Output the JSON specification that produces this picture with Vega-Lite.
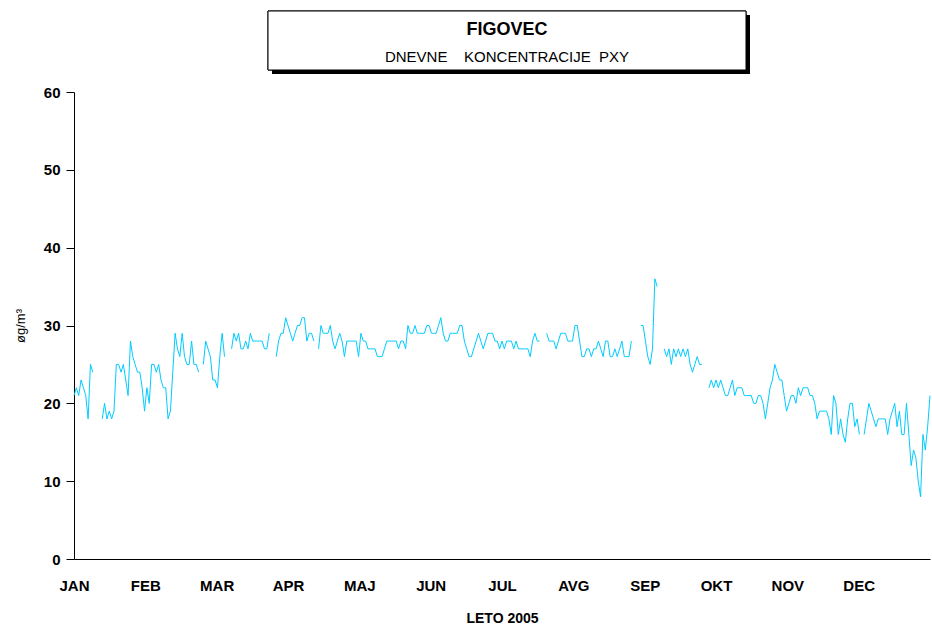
{
  "$schema": "https://vega.github.io/schema/vega-lite/v6.json",
  "background": "white",
  "padding": {"left": 14, "top": 10, "right": 0, "bottom": 0},
  "config": {
    "view": {"stroke": null},
    "font": "Liberation Sans",
    "axis": {"labelFont": "Liberation Sans", "titleFont": "Liberation Sans", "labelColor": "black", "titleColor": "black", "domainColor": "black", "tickColor": "black", "grid": false}
  },
  "spacing": 22,
  "bounds": "flush",
  "center": true,
  "vconcat": [
    {
      "width": 484,
      "height": 59,
      "data": {"values": [{"line": "a", "t": "FIGOVEC"}, {"line": "b", "t": "DNEVNE\u00a0\u00a0\u00a0 KONCENTRACIJE\u00a0 PXY"}]},
      "layer": [
        {
          "mark": {"type": "rect", "color": "black", "xOffset": 12, "x2Offset": 6, "yOffset": 4, "y2Offset": 4},
          "encoding": {"x": {"value": 0}, "x2": {"value": "width"}, "y": {"value": 0}, "y2": {"value": "height"}}
        },
        {
          "mark": {"type": "rect", "fill": "white", "stroke": "black", "strokeWidth": 1, "xOffset": 8, "x2Offset": 2},
          "encoding": {"x": {"value": 0}, "x2": {"value": "width"}, "y": {"value": 0}, "y2": {"value": "height"}}
        },
        {
          "transform": [{"filter": "datum.line == 'a'"}],
          "mark": {"type": "text", "fontWeight": "bold", "fontSize": 18, "baseline": "middle", "color": "black", "dx": 5},
          "encoding": {
            "text": {"field": "t"},
            "y": {"field": "line", "type": "nominal", "axis": null, "scale": {"type": "point", "domain": ["a", "b"], "range": [19, 46], "padding": 0}}
          }
        },
        {
          "transform": [{"filter": "datum.line == 'b'"}],
          "mark": {"type": "text", "fontWeight": "normal", "fontSize": 15, "baseline": "middle", "color": "black", "dx": 5},
          "encoding": {
            "text": {"field": "t"},
            "y": {"field": "line", "type": "nominal", "axis": null, "scale": {"type": "point", "domain": ["a", "b"], "range": [19, 46], "padding": 0}}
          }
        }
      ]
    },
    {
      "width": 856,
      "height": 467,
      "data": {"values": [
{"d":0,"v":21},{"d":1,"v":22},{"d":2,"v":21},{"d":3,"v":23},{"d":4,"v":22},{"d":5,"v":21},{"d":6,"v":18},{"d":7,"v":25},{"d":8,"v":24},{"d":9,"v":null},
{"d":10,"v":null},{"d":11,"v":null},{"d":12,"v":18},{"d":13,"v":20},{"d":14,"v":18},{"d":15,"v":19},{"d":16,"v":18},{"d":17,"v":19},{"d":18,"v":25},{"d":19,"v":25},
{"d":20,"v":24},{"d":21,"v":25},{"d":22,"v":23},{"d":23,"v":21},{"d":24,"v":28},{"d":25,"v":26},{"d":26,"v":25},{"d":27,"v":24},{"d":28,"v":24},{"d":29,"v":22},
{"d":30,"v":19},{"d":31,"v":22},{"d":32,"v":20},{"d":33,"v":25},{"d":34,"v":25},{"d":35,"v":24},{"d":36,"v":25},{"d":37,"v":23},{"d":38,"v":22},{"d":39,"v":22},
{"d":40,"v":18},{"d":41,"v":19},{"d":42,"v":24},{"d":43,"v":29},{"d":44,"v":27},{"d":45,"v":26},{"d":46,"v":29},{"d":47,"v":26},{"d":48,"v":25},{"d":49,"v":25},
{"d":50,"v":28},{"d":51,"v":25},{"d":52,"v":25},{"d":53,"v":24},{"d":54,"v":null},{"d":55,"v":25},{"d":56,"v":28},{"d":57,"v":27},{"d":58,"v":26},{"d":59,"v":23},
{"d":60,"v":23},{"d":61,"v":22},{"d":62,"v":26},{"d":63,"v":29},{"d":64,"v":26},{"d":65,"v":null},{"d":66,"v":null},{"d":67,"v":27},{"d":68,"v":29},{"d":69,"v":28},
{"d":70,"v":29},{"d":71,"v":27},{"d":72,"v":27},{"d":73,"v":28},{"d":74,"v":27},{"d":75,"v":29},{"d":76,"v":28},{"d":77,"v":28},{"d":78,"v":28},{"d":79,"v":28},
{"d":80,"v":28},{"d":81,"v":27},{"d":82,"v":27},{"d":83,"v":29},{"d":84,"v":null},{"d":85,"v":null},{"d":86,"v":26},{"d":87,"v":28},{"d":88,"v":29},{"d":89,"v":29},
{"d":90,"v":31},{"d":91,"v":30},{"d":92,"v":29},{"d":93,"v":28},{"d":94,"v":29},{"d":95,"v":30},{"d":96,"v":30},{"d":97,"v":31},{"d":98,"v":31},{"d":99,"v":28},
{"d":100,"v":29},{"d":101,"v":29},{"d":102,"v":28},{"d":103,"v":null},{"d":104,"v":27},{"d":105,"v":30},{"d":106,"v":29},{"d":107,"v":29},{"d":108,"v":29},{"d":109,"v":30},
{"d":110,"v":28},{"d":111,"v":27},{"d":112,"v":28},{"d":113,"v":29},{"d":114,"v":28},{"d":115,"v":26},{"d":116,"v":28},{"d":117,"v":28},{"d":118,"v":28},{"d":119,"v":28},
{"d":120,"v":28},{"d":121,"v":26},{"d":122,"v":29},{"d":123,"v":28},{"d":124,"v":28},{"d":125,"v":27},{"d":126,"v":27},{"d":127,"v":27},{"d":128,"v":27},{"d":129,"v":26},
{"d":130,"v":26},{"d":131,"v":26},{"d":132,"v":27},{"d":133,"v":28},{"d":134,"v":28},{"d":135,"v":28},{"d":136,"v":28},{"d":137,"v":28},{"d":138,"v":27},{"d":139,"v":28},
{"d":140,"v":28},{"d":141,"v":27},{"d":142,"v":30},{"d":143,"v":29},{"d":144,"v":29},{"d":145,"v":30},{"d":146,"v":29},{"d":147,"v":29},{"d":148,"v":29},{"d":149,"v":29},
{"d":150,"v":30},{"d":151,"v":30},{"d":152,"v":29},{"d":153,"v":29},{"d":154,"v":29},{"d":155,"v":30},{"d":156,"v":31},{"d":157,"v":29},{"d":158,"v":28},{"d":159,"v":28},
{"d":160,"v":29},{"d":161,"v":29},{"d":162,"v":29},{"d":163,"v":29},{"d":164,"v":30},{"d":165,"v":30},{"d":166,"v":28},{"d":167,"v":27},{"d":168,"v":26},{"d":169,"v":26},
{"d":170,"v":27},{"d":171,"v":28},{"d":172,"v":29},{"d":173,"v":28},{"d":174,"v":27},{"d":175,"v":28},{"d":176,"v":29},{"d":177,"v":29},{"d":178,"v":29},{"d":179,"v":28},
{"d":180,"v":28},{"d":181,"v":27},{"d":182,"v":28},{"d":183,"v":27},{"d":184,"v":28},{"d":185,"v":28},{"d":186,"v":28},{"d":187,"v":27},{"d":188,"v":28},{"d":189,"v":27},
{"d":190,"v":27},{"d":191,"v":27},{"d":192,"v":27},{"d":193,"v":27},{"d":194,"v":26},{"d":195,"v":28},{"d":196,"v":29},{"d":197,"v":28},{"d":198,"v":28},{"d":199,"v":null},
{"d":200,"v":null},{"d":201,"v":29},{"d":202,"v":28},{"d":203,"v":28},{"d":204,"v":28},{"d":205,"v":27},{"d":206,"v":28},{"d":207,"v":29},{"d":208,"v":29},{"d":209,"v":29},
{"d":210,"v":28},{"d":211,"v":28},{"d":212,"v":28},{"d":213,"v":30},{"d":214,"v":30},{"d":215,"v":28},{"d":216,"v":26},{"d":217,"v":26},{"d":218,"v":27},{"d":219,"v":27},
{"d":220,"v":26},{"d":221,"v":27},{"d":222,"v":27},{"d":223,"v":28},{"d":224,"v":27},{"d":225,"v":26},{"d":226,"v":28},{"d":227,"v":28},{"d":228,"v":26},{"d":229,"v":26},
{"d":230,"v":27},{"d":231,"v":26},{"d":232,"v":27},{"d":233,"v":28},{"d":234,"v":26},{"d":235,"v":26},{"d":236,"v":26},{"d":237,"v":28},{"d":238,"v":null},{"d":239,"v":null},
{"d":240,"v":null},{"d":241,"v":30},{"d":242,"v":30},{"d":243,"v":28},{"d":244,"v":26},{"d":245,"v":25},{"d":246,"v":27},{"d":247,"v":36},{"d":248,"v":35},{"d":249,"v":null},
{"d":250,"v":null},{"d":251,"v":27},{"d":252,"v":26},{"d":253,"v":27},{"d":254,"v":25},{"d":255,"v":27},{"d":256,"v":26},{"d":257,"v":27},{"d":258,"v":26},{"d":259,"v":27},
{"d":260,"v":26},{"d":261,"v":27},{"d":262,"v":25},{"d":263,"v":24},{"d":264,"v":25},{"d":265,"v":26},{"d":266,"v":25},{"d":267,"v":25},{"d":268,"v":null},{"d":269,"v":null},
{"d":270,"v":22},{"d":271,"v":23},{"d":272,"v":22},{"d":273,"v":23},{"d":274,"v":22},{"d":275,"v":23},{"d":276,"v":22},{"d":277,"v":21},{"d":278,"v":21},{"d":279,"v":22},
{"d":280,"v":23},{"d":281,"v":21},{"d":282,"v":22},{"d":283,"v":22},{"d":284,"v":22},{"d":285,"v":21},{"d":286,"v":21},{"d":287,"v":21},{"d":288,"v":21},{"d":289,"v":20},
{"d":290,"v":20},{"d":291,"v":21},{"d":292,"v":21},{"d":293,"v":20},{"d":294,"v":18},{"d":295,"v":20},{"d":296,"v":22},{"d":297,"v":23},{"d":298,"v":25},{"d":299,"v":24},
{"d":300,"v":23},{"d":301,"v":23},{"d":302,"v":21},{"d":303,"v":19},{"d":304,"v":20},{"d":305,"v":21},{"d":306,"v":21},{"d":307,"v":20},{"d":308,"v":22},{"d":309,"v":21},
{"d":310,"v":22},{"d":311,"v":22},{"d":312,"v":22},{"d":313,"v":21},{"d":314,"v":21},{"d":315,"v":20},{"d":316,"v":18},{"d":317,"v":19},{"d":318,"v":19},{"d":319,"v":19},
{"d":320,"v":19},{"d":321,"v":18},{"d":322,"v":16},{"d":323,"v":21},{"d":324,"v":20},{"d":325,"v":16},{"d":326,"v":18},{"d":327,"v":16},{"d":328,"v":15},{"d":329,"v":18},
{"d":330,"v":20},{"d":331,"v":20},{"d":332,"v":17},{"d":333,"v":18},{"d":334,"v":16},{"d":335,"v":null},{"d":336,"v":16},{"d":337,"v":18},{"d":338,"v":20},{"d":339,"v":19},
{"d":340,"v":18},{"d":341,"v":17},{"d":342,"v":18},{"d":343,"v":18},{"d":344,"v":18},{"d":345,"v":18},{"d":346,"v":16},{"d":347,"v":18},{"d":348,"v":19},{"d":349,"v":20},
{"d":350,"v":17},{"d":351,"v":19},{"d":352,"v":16},{"d":353,"v":16},{"d":354,"v":20},{"d":355,"v":16},{"d":356,"v":12},{"d":357,"v":14},{"d":358,"v":13},{"d":359,"v":10},
{"d":360,"v":8},{"d":361,"v":16},{"d":362,"v":14},{"d":363,"v":17},{"d":364,"v":21}
      ]},
      "mark": {"type": "line", "color": "#00CCFF", "strokeWidth": 1, "invalid": "break-paths-show-domains"},
      "encoding": {
        "x": {
          "field": "d", "type": "quantitative",
          "scale": {"domain": [0, 364], "nice": false, "zero": false},
          "axis": {
            "values": [0, 30.3333, 60.6667, 91, 121.3333, 151.6667, 182, 212.3333, 242.6667, 273, 303.3333, 333.6667],
            "labelExpr": "['JAN','FEB','MAR','APR','MAJ','JUN','JUL','AVG','SEP','OKT','NOV','DEC'][round(datum.value / 30.3333)]",
            "ticks": false, "tickSize": 0, "labelFlush": false, "labelOverlap": false,
            "labelFontSize": 15, "labelFontWeight": "bold", "labelPadding": 19,
            "title": "LETO  2005", "titleFontSize": 14, "titleFontWeight": "bold", "titlePadding": 18,
            "domainWidth": 1
          }
        },
        "y": {
          "field": "v", "type": "quantitative",
          "scale": {"domain": [0, 60], "nice": false},
          "axis": {
            "values": [0, 10, 20, 30, 40, 50, 60],
            "tickSize": 8, "labelPadding": 6,
            "labelFontSize": 15, "labelFontWeight": "bold",
            "title": "øg/m³", "titleFontSize": 13, "titleFontWeight": "normal", "titlePadding": 16,
            "domainWidth": 1
          }
        }
      }
    }
  ]
}
